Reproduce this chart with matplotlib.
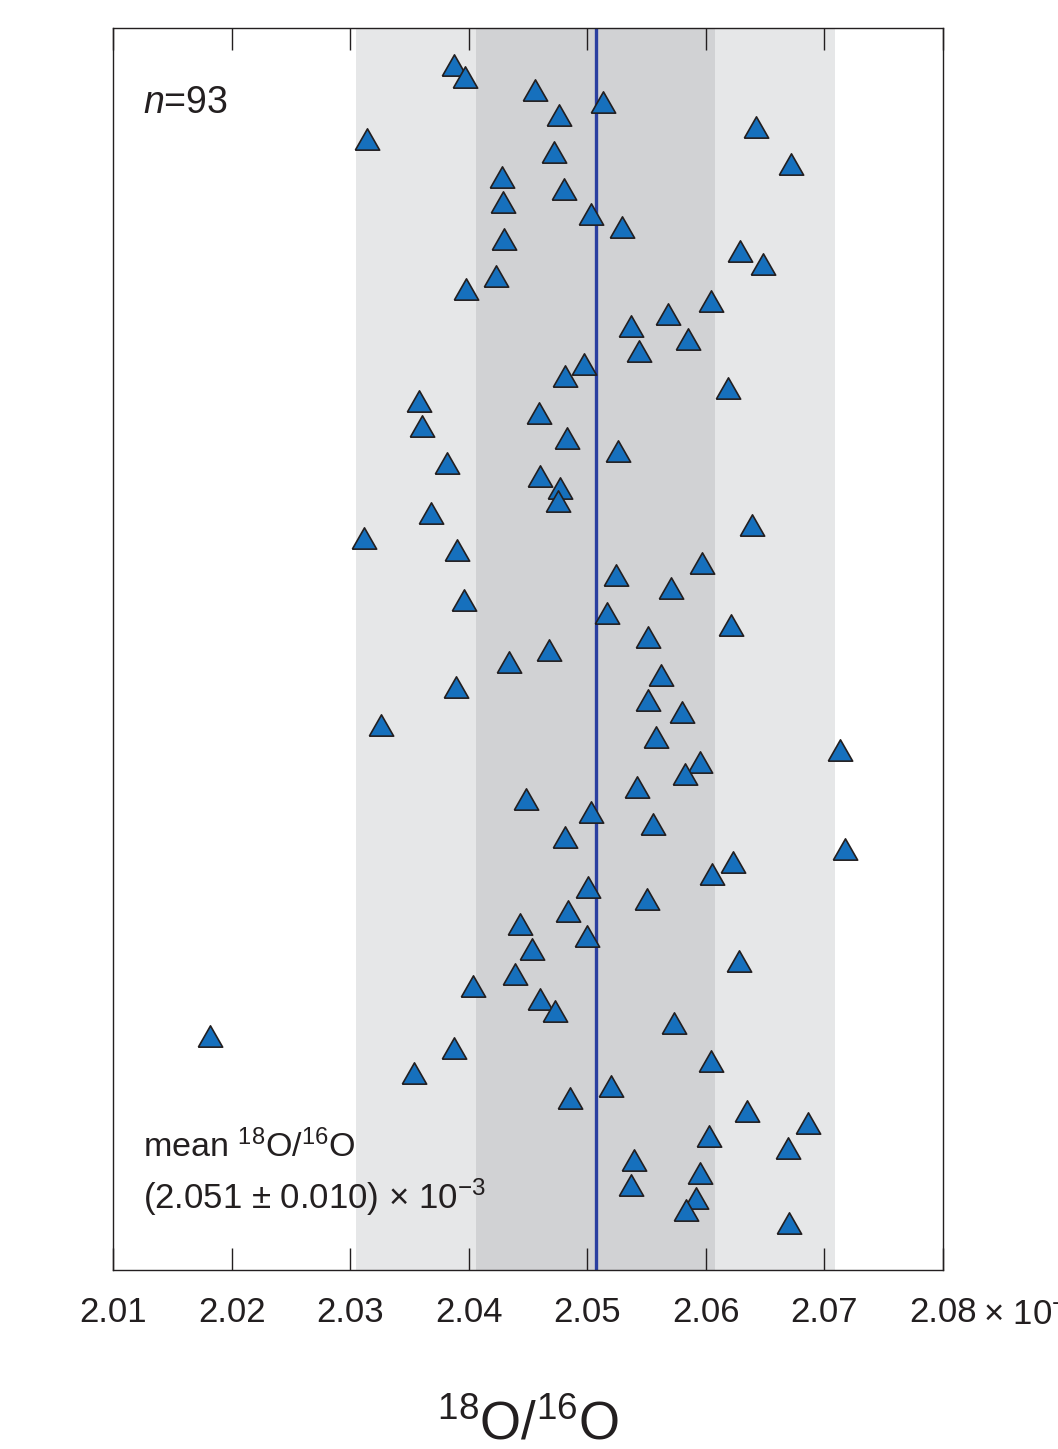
import numpy as np
import matplotlib
matplotlib.use("Agg")
import matplotlib.pyplot as plt

plt.rcParams["font.family"] = ["Liberation Sans", "DejaVu Sans"]
plt.rcParams["mathtext.fontset"] = "custom"
plt.rcParams["mathtext.rm"] = "Liberation Sans"
plt.rcParams["mathtext.it"] = "Liberation Sans:italic"

# 18O/16O ratios (x 1e-3), top to bottom
ratios = [
    2.0388, 2.0397, 2.0456, 2.0513, 2.0476, 2.0642, 2.0314, 2.0472, 2.0672, 2.0428,
    2.0480, 2.0429, 2.0503, 2.0529, 2.0430, 2.0629, 2.0648, 2.0423, 2.0398, 2.0604,
    2.0568, 2.0537, 2.0585, 2.0544, 2.0497, 2.0481, 2.0619, 2.0358, 2.0459, 2.0361,
    2.0483, 2.0526, 2.0382, 2.0460, 2.0477, 2.0475, 2.0368, 2.0639, 2.0312, 2.0390,
    2.0597, 2.0524, 2.0571, 2.0396, 2.0517, 2.0621, 2.0551, 2.0468, 2.0434, 2.0562,
    2.0389, 2.0551, 2.0580, 2.0326, 2.0558, 2.0713, 2.0595, 2.0582, 2.0542, 2.0448,
    2.0503, 2.0555, 2.0481, 2.0717, 2.0623, 2.0605, 2.0501, 2.0550, 2.0484, 2.0443,
    2.0500, 2.0453, 2.0628, 2.0439, 2.0404, 2.0460, 2.0473, 2.0573, 2.0182, 2.0388,
    2.0604, 2.0354, 2.0520, 2.0485, 2.0635, 2.0686, 2.0603, 2.0669, 2.0539, 2.0595,
    2.0537, 2.0592, 2.0583, 2.0670,
]
mean_ratio = 2.0507
sd_ratio = 0.0101

xticks = [2.01, 2.02, 2.03, 2.04, 2.05, 2.06, 2.07, 2.08]
xticklabels = ["2.01", "2.02", "2.03", "2.04", "2.05", "2.06", "2.07", "2.08"]

W, H = 1058, 1449
fig = plt.figure(figsize=(W / 100, H / 100), dpi=100)
ax = fig.add_axes([113 / W, 1 - 1270 / H, 830 / W, 1242 / H])

ink = "#231f20"

# shaded +-2 sd and +-1 sd bands, mean line
ax.axvspan(mean_ratio - 2 * sd_ratio, mean_ratio + 2 * sd_ratio, color="#e6e7e8", lw=0, zorder=0)
ax.axvspan(mean_ratio - sd_ratio, mean_ratio + sd_ratio, color="#d1d2d4", lw=0, zorder=1)
ax.axvline(mean_ratio, color="#2a3fa0", lw=2.4, zorder=2)

tri = [(-1, -0.875), (1, -0.875), (0, 0.875), (-1, -0.875)]
ypos = np.arange(1, len(ratios) + 1)
ax.plot(ratios, ypos, linestyle="none", marker=tri, ms=17.5,
        mfc="#1670bd", mec=ink, mew=1.2, zorder=3)

ax.set_xlim(2.01, 2.08)
ax.set_ylim(97.8, -1.95)
ax.set_yticks([])
ax.set_xticks(xticks)
ax.set_xticklabels(xticklabels)
ax.tick_params(axis="x", direction="in", length=16, width=1, colors=ink,
               top=True, labelsize=25, pad=19)
for s in ax.spines.values():
    s.set_color(ink)
    s.set_linewidth(1.0)

# the exponent runs off the right edge, as in the source figure
fig.text(983 / W, 1 - 1325 / H, r"$\times$ 10$^{-3}$", fontsize=25, ha="left",
         va="baseline", color=ink)

fig.text(143 / W, 1 - 113 / H, r"$n$=93", fontsize=27, ha="left", va="baseline", color=ink)
fig.text(143 / W, 1 - 1157 / H, r"mean $^{18}$O/$^{16}$O", fontsize=24.5, ha="left",
         va="baseline", color=ink)
fig.text(143 / W, 1 - 1209 / H, r"(2.051 $\pm$ 0.010) $\times$ 10$^{-3}$", fontsize=25,
         ha="left", va="baseline", color=ink)

fig.text(528 / W, 1 - 1439 / H, r"$^{18}$O/$^{16}$O", fontsize=38, ha="center",
         va="baseline", color=ink)

fig.savefig("out.png", dpi=100)
